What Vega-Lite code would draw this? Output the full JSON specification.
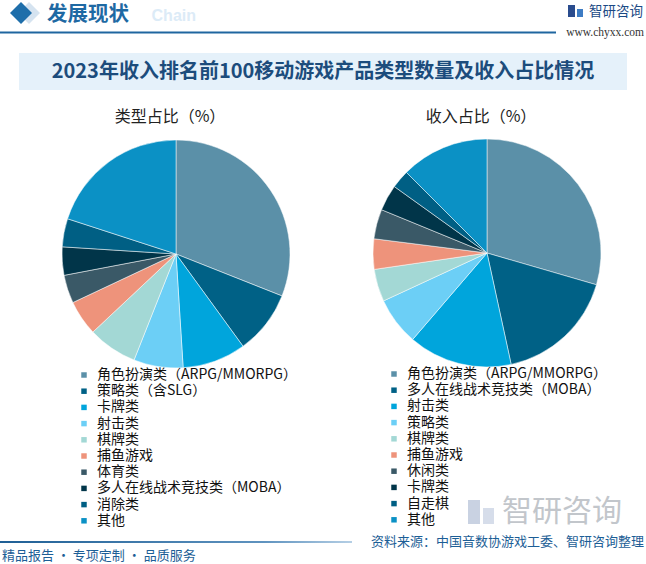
{
  "$schema": "https://vega.github.io/schema/vega-lite/v6.json",
  "width": 646,
  "height": 564,
  "autosize": {"type": "none"},
  "padding": 0,
  "background": "white",
  "config": {"view": {"stroke": null}, "font": "Noto Sans CJK SC"},
  "datasets": {
    "pie": [
      {"chart": "类型占比（%）", "rank": 1, "type": "角色扮演类（ARPG/MMORPG）", "value": 31},
      {"chart": "类型占比（%）", "rank": 2, "type": "策略类（含SLG）", "value": 9},
      {"chart": "类型占比（%）", "rank": 3, "type": "卡牌类", "value": 9},
      {"chart": "类型占比（%）", "rank": 4, "type": "射击类", "value": 7},
      {"chart": "类型占比（%）", "rank": 5, "type": "棋牌类", "value": 7},
      {"chart": "类型占比（%）", "rank": 6, "type": "捕鱼游戏", "value": 5},
      {"chart": "类型占比（%）", "rank": 7, "type": "体育类", "value": 4},
      {"chart": "类型占比（%）", "rank": 8, "type": "多人在线战术竞技类（MOBA）", "value": 4},
      {"chart": "类型占比（%）", "rank": 9, "type": "消除类", "value": 4},
      {"chart": "类型占比（%）", "rank": 10, "type": "其他", "value": 20},
      {"chart": "收入占比（%）", "rank": 1, "type": "角色扮演类（ARPG/MMORPG）", "value": 29.5},
      {"chart": "收入占比（%）", "rank": 2, "type": "多人在线战术竞技类（MOBA）", "value": 17.1},
      {"chart": "收入占比（%）", "rank": 3, "type": "射击类", "value": 14.7},
      {"chart": "收入占比（%）", "rank": 4, "type": "策略类", "value": 6.8},
      {"chart": "收入占比（%）", "rank": 5, "type": "棋牌类", "value": 4.6},
      {"chart": "收入占比（%）", "rank": 6, "type": "捕鱼游戏", "value": 4.3},
      {"chart": "收入占比（%）", "rank": 7, "type": "休闲类", "value": 4.2},
      {"chart": "收入占比（%）", "rank": 8, "type": "卡牌类", "value": 3.7},
      {"chart": "收入占比（%）", "rank": 9, "type": "自走棋", "value": 2.6},
      {"chart": "收入占比（%）", "rank": 10, "type": "其他", "value": 12.5}
    ]
  },
  "layer": [
    {
      "data": {"values": [{}]},
      "mark": {"type": "point", "shape": "diamond", "filled": true, "size": 484, "color": "#D5E3F0", "opacity": 1},
      "encoding": {"x": {"value": 29}, "y": {"value": 13}}
    },
    {
      "data": {"values": [{}]},
      "mark": {"type": "point", "shape": "diamond", "filled": true, "size": 484, "color": "#1E6EAA", "opacity": 1},
      "encoding": {"x": {"value": 21}, "y": {"value": 13}}
    },
    {
      "data": {"values": [{}]},
      "mark": {"type": "text", "text": "Chain", "align": "right", "baseline": "middle", "font": "Liberation Sans", "fontSize": 16, "fontWeight": "bold", "color": "#DCEBF7"},
      "encoding": {"x": {"value": 196}, "y": {"value": 16}}
    },
    {
      "data": {"values": [{}]},
      "mark": {"type": "text", "text": "发展现状", "align": "left", "baseline": "middle", "fontSize": 20.5, "fontWeight": "bold", "color": "#1E69A3"},
      "encoding": {"x": {"value": 47}, "y": {"value": 15}}
    },
    {
      "data": {"values": [{}]},
      "mark": {"type": "rect", "color": "#1F66A0"},
      "encoding": {"x": {"value": 0}, "x2": {"value": 556}, "y": {"value": 31.5}, "y2": {"value": 33.5}}
    },
    {
      "data": {"values": [{}]},
      "mark": {"type": "rect", "color": "#2A4C8E"},
      "encoding": {"x": {"value": 568}, "x2": {"value": 575}, "y": {"value": 5}, "y2": {"value": 17}}
    },
    {
      "data": {"values": [{}]},
      "mark": {"type": "rect", "color": "#3D7CC4"},
      "encoding": {"x": {"value": 577}, "x2": {"value": 583}, "y": {"value": 9}, "y2": {"value": 17}}
    },
    {
      "data": {"values": [{}]},
      "mark": {"type": "text", "text": "智研咨询", "align": "left", "baseline": "middle", "fontSize": 13.5, "color": "#1B4A85"},
      "encoding": {"x": {"value": 589}, "y": {"value": 12}}
    },
    {
      "data": {"values": [{}]},
      "mark": {"type": "text", "text": "www.chyxx.com", "align": "right", "baseline": "middle", "font": "Liberation Serif", "fontSize": 11.5, "color": "#333333"},
      "encoding": {"x": {"value": 644}, "y": {"value": 33}}
    },
    {
      "data": {"values": [{}]},
      "mark": {"type": "rect", "color": "#E5F1FA"},
      "encoding": {"x": {"value": 19}, "x2": {"value": 627}, "y": {"value": 53}, "y2": {"value": 90}}
    },
    {
      "data": {"values": [{}]},
      "mark": {"type": "text", "text": "2023年收入排名前100移动游戏产品类型数量及收入占比情况", "align": "center", "baseline": "middle", "fontSize": 20, "fontWeight": "bold", "color": "#1C4C7C"},
      "encoding": {"x": {"value": 323}, "y": {"value": 72}}
    },
    {
      "data": {"name": "pie"},
      "transform": [{"filter": "datum.rank == 1"}],
      "mark": {"type": "text", "align": "center", "baseline": "middle", "fontSize": 16, "color": "#222222", "dx": -6},
      "encoding": {
        "x": {"field": "chart", "type": "nominal", "scale": {"type": "point", "domain": ["类型占比（%）", "收入占比（%）"], "range": [176, 487], "padding": 0}, "axis": null},
        "y": {"value": 117},
        "text": {"field": "chart"}
      }
    },
    {
      "data": {"name": "pie"},
      "transform": [{"filter": "datum.chart == '类型占比（%）'"}],
      "mark": {"type": "arc", "outerRadius": 114, "stroke": "#ffffff", "strokeWidth": 0.5},
      "encoding": {
        "x": {"field": "chart", "type": "nominal", "axis": null},
        "y": {"value": 254},
        "theta": {"field": "value", "type": "quantitative", "stack": true},
        "order": {"field": "rank", "type": "quantitative"},
        "color": {
          "field": "type", "type": "nominal",
          "scale": {
            "domain": ["角色扮演类（ARPG/MMORPG）", "策略类（含SLG）", "卡牌类", "射击类", "棋牌类", "捕鱼游戏", "体育类", "多人在线战术竞技类（MOBA）", "消除类", "其他"],
            "range": ["#5B90A8", "#006186", "#00A5DC", "#6CCFF6", "#A3D8D5", "#EE937B", "#3A5967", "#013549", "#005F84", "#0B91C5"]
          },
          "legend": {"orient": "none", "legendX": 77, "legendY": 368, "title": null, "symbolType": "square", "symbolSize": 30, "symbolStrokeWidth": 0, "labelFontSize": 14, "labelFont": "Noto Sans CJK SC", "labelColor": "#111111", "rowPadding": 2.2, "labelOffset": 6, "padding": 0, "labelLimit": 400}
        }
      }
    },
    {
      "data": {"name": "pie"},
      "transform": [{"filter": "datum.chart == '收入占比（%）'"}],
      "mark": {"type": "arc", "outerRadius": 114, "stroke": "#ffffff", "strokeWidth": 0.5},
      "encoding": {
        "x": {"field": "chart", "type": "nominal", "axis": null},
        "y": {"value": 253},
        "theta": {"field": "value", "type": "quantitative", "stack": true},
        "order": {"field": "rank", "type": "quantitative"},
        "color": {
          "field": "type", "type": "nominal",
          "scale": {
            "domain": ["角色扮演类（ARPG/MMORPG）", "多人在线战术竞技类（MOBA）", "射击类", "策略类", "棋牌类", "捕鱼游戏", "休闲类", "卡牌类", "自走棋", "其他"],
            "range": ["#5B90A8", "#006186", "#00A5DC", "#6CCFF6", "#A3D8D5", "#EE937B", "#3A5967", "#013549", "#005F84", "#0B91C5"]
          },
          "legend": {"orient": "none", "legendX": 387, "legendY": 367, "title": null, "symbolType": "square", "symbolSize": 30, "symbolStrokeWidth": 0, "labelFontSize": 14, "labelFont": "Noto Sans CJK SC", "labelColor": "#111111", "rowPadding": 2.2, "labelOffset": 6, "padding": 0, "labelLimit": 400}
        }
      }
    },
    {
      "data": {"values": [{}]},
      "mark": {"type": "text", "text": "智研咨询", "align": "left", "baseline": "middle", "fontSize": 30, "color": "#C2C6CB"},
      "encoding": {"x": {"value": 502}, "y": {"value": 512}}
    },
    {
      "data": {"values": [{}]},
      "mark": {"type": "rect", "color": "#C9D2E2"},
      "encoding": {"x": {"value": 468}, "x2": {"value": 480}, "y": {"value": 500}, "y2": {"value": 524}}
    },
    {
      "data": {"values": [{}]},
      "mark": {"type": "rect", "color": "#D6DDEA"},
      "encoding": {"x": {"value": 483}, "x2": {"value": 494}, "y": {"value": 508}, "y2": {"value": 524}}
    },
    {
      "data": {"values": [{}]},
      "mark": {"type": "rect", "color": {"gradient": "linear", "x1": 0, "x2": 1, "y1": 0, "y2": 0, "stops": [{"offset": 0, "color": "#1F5F95"}, {"offset": 0.75, "color": "#5F93BF"}, {"offset": 1, "color": "#B5CFE5"}]}},
      "encoding": {"x": {"value": 0}, "x2": {"value": 352}, "y": {"value": 541}, "y2": {"value": 543}}
    },
    {
      "data": {"values": [{}]},
      "mark": {"type": "text", "text": "精品报告 · 专项定制 · 品质服务", "align": "left", "baseline": "middle", "fontSize": 13, "color": "#1C5E96"},
      "encoding": {"x": {"value": 2}, "y": {"value": 556}}
    },
    {
      "data": {"values": [{}]},
      "mark": {"type": "text", "text": "资料来源：中国音数协游戏工委、智研咨询整理", "align": "right", "baseline": "middle", "fontSize": 13, "color": "#1C5E96"},
      "encoding": {"x": {"value": 644}, "y": {"value": 542}}
    }
  ],
  "resolve": {"scale": {"color": "independent"}, "legend": {"color": "independent"}}
}
